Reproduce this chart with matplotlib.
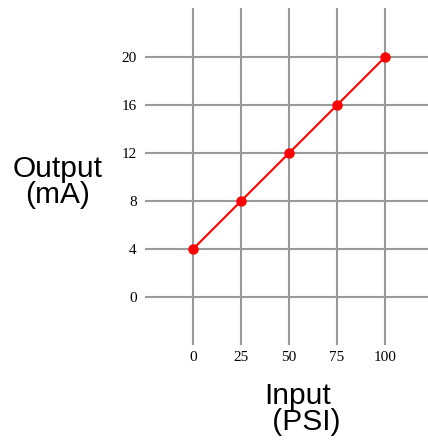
import matplotlib
matplotlib.use("Agg")
import matplotlib.pyplot as plt

input_psi = [0, 25, 50, 75, 100]
output_ma = [4, 8, 12, 16, 20]
x_ticks = [0, 25, 50, 75, 100]
y_ticks = [0, 4, 8, 12, 16, 20]

W, H = 428, 446
fig = plt.figure(figsize=(W / 100, H / 100), dpi=100)
ax = fig.add_axes([145 / W, 1 - 345 / H, (428 - 145) / W, (345 - 8) / H])

xmin, xmax = -25, 122.4
ymin, ymax = -4, 24.1
ax.set_xlim(xmin, xmax)
ax.set_ylim(ymin, ymax)

grid_c = "#9a9a9a"
ax.vlines(x_ticks, ymin, ymax, color=grid_c, lw=1.5, zorder=1)
ax.hlines(y_ticks, xmin, xmax, color=grid_c, lw=1.5, zorder=1)

ax.plot(input_psi, output_ma, color="red", lw=1.5, marker="o", ms=6.5, zorder=3)

for s in ax.spines.values():
    s.set_visible(False)
ax.set_xticks(x_ticks)
ax.set_yticks(y_ticks)
ax.set_xticklabels([str(v) for v in x_ticks], family="Liberation Serif", fontsize=11)
ax.set_yticklabels([str(v) for v in y_ticks], family="Liberation Serif", fontsize=11)
ax.tick_params(length=0, pad=4)
ax.tick_params(axis="y", pad=6)

fig.text(57.5 / W, 1 - 182 / H, "Output\n(mA)", ha="center", va="center",
         family="Liberation Sans", fontsize=21.5, linespacing=0.92)
fig.text(264 / W, 1 - 409 / H, "Input\n (PSI)", ha="left", va="center",
         family="Liberation Sans", fontsize=21.5, linespacing=0.92, multialignment="left")

fig.savefig("out.png", dpi=100)
